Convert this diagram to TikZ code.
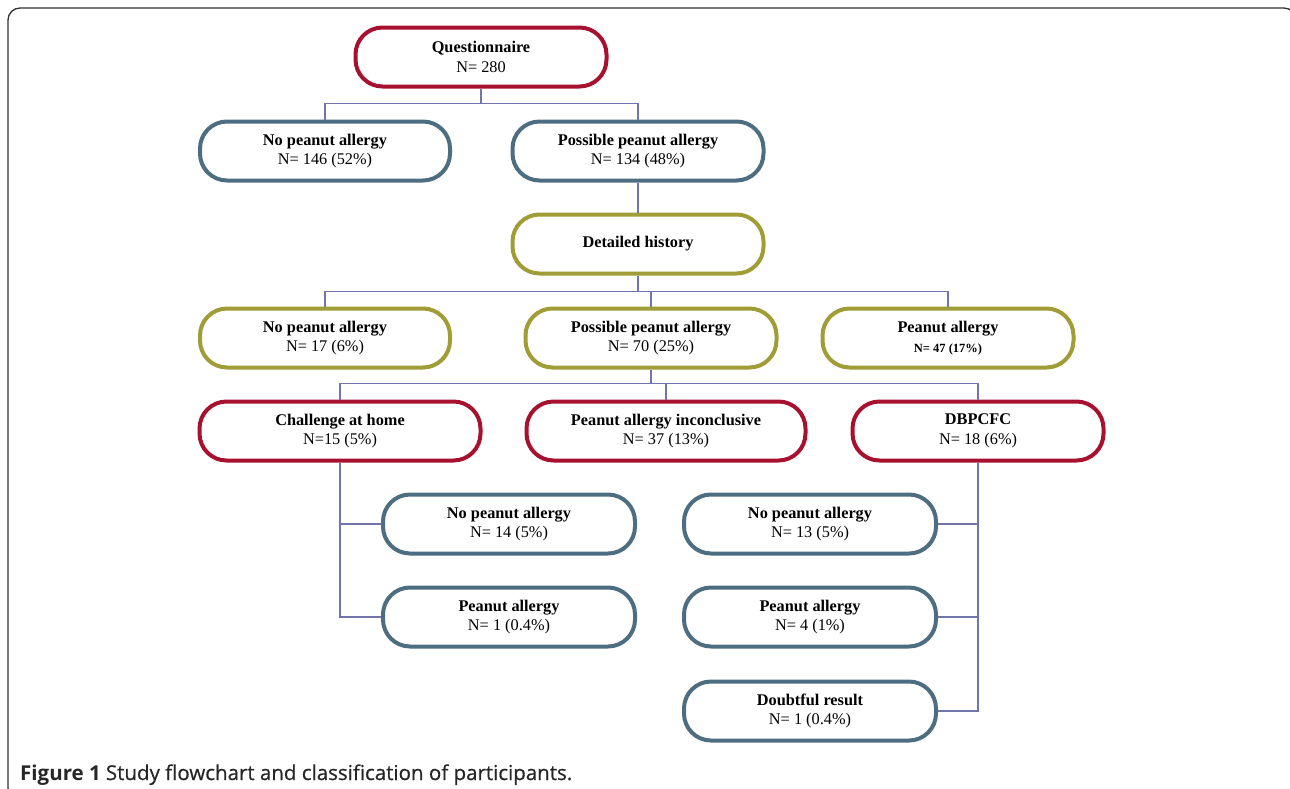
\documentclass[tikz,border=0pt]{standalone}
\usepackage{fontspec}
\setmainfont{Liberation Serif}
\newfontfamily\capfont{Open Sans}
\newfontfamily\capsemi[FakeBold=0.6]{Open Sans}
\usetikzlibrary{calc}
\definecolor{cred}{HTML}{A8102F}
\definecolor{cblue}{HTML}{4D6D80}
\definecolor{colive}{HTML}{A09C36}
\definecolor{cconn}{HTML}{7474AC}
\definecolor{cframe}{HTML}{333333}
\tikzset{
  box/.style={draw, line width=4pt, rounded corners=27pt, fill=white,
    minimum height=59pt, align=center, inner sep=2pt,
    font=\fontsize{16.3}{19.5}\selectfont},
  redbox/.style={box, draw=cred},
  bluebox/.style={box, draw=cblue},
  olivebox/.style={box, draw=colive},
  conn/.style={draw=cconn, line width=1.4pt},
}
\begin{document}
\begin{tikzpicture}[x=1pt, y=-1pt]
\useasboundingbox (0,0) rectangle (1290,788);
\draw[cframe, line width=1.3pt, rounded corners=12pt] (8,8) rectangle (1296,800);

\node[redbox, minimum width=251pt] (q) at (481,57) {\textbf{Questionnaire}\\N= 280};
\node[bluebox, minimum width=250pt] (n1) at (325,151) {\textbf{No peanut allergy}\\N= 146 (52\%)};
\node[bluebox, minimum width=251pt] (p1) at (638,151) {\textbf{Possible peanut allergy}\\N= 134 (48\%)};
\node[olivebox, minimum width=251pt] (dh) at (638,244) {\textbf{Detailed history}};
\node[olivebox, minimum width=250pt] (n2) at (325,338) {\textbf{No peanut allergy}\\N= 17 (6\%)};
\node[olivebox, minimum width=251pt] (p2) at (651,338) {\textbf{Possible peanut allergy}\\N= 70 (25\%)};
\node[olivebox, minimum width=251pt] (a2) at (948,338) {\textbf{Peanut allergy}\\{\fontsize{12.5}{15}\selectfont\textbf{N= 47 (17\%)}}};
\node[redbox, minimum width=281pt] (ch) at (340,431) {\textbf{Challenge at home}\\N=15 (5\%)};
\node[redbox, minimum width=279pt] (inc) at (666,431) {\textbf{Peanut allergy inconclusive}\\N= 37 (13\%)};
\node[redbox, minimum width=251pt] (db) at (978,431) {\textbf{DBPCFC}\\N= 18 (6\%)};
\node[bluebox, minimum width=252pt] (n3) at (509,524) {\textbf{No peanut allergy}\\N= 14 (5\%)};
\node[bluebox, minimum width=252pt] (a3) at (509,617) {\textbf{Peanut allergy}\\N= 1 (0.4\%)};
\node[bluebox, minimum width=252pt] (n4) at (810,524) {\textbf{No peanut allergy}\\N= 13 (5\%)};
\node[bluebox, minimum width=252pt] (a4) at (810,617) {\textbf{Peanut allergy}\\N= 4 (1\%)};
\node[bluebox, minimum width=252pt] (d4) at (810,711) {\textbf{Doubtful result}\\N= 1 (0.4\%)};

% connectors
\draw[conn] (q.south) -- ++(0,15) coordinate (j1);
\draw[conn] (j1) -| (n1.north);
\draw[conn] (j1) -| (p1.north);
\draw[conn] (p1.south) -- (dh.north);
\draw[conn] (dh.south) -- ++(0,16) coordinate (j2);
\draw[conn] (j2) -| (n2.north);
\draw[conn] (j2) -| (p2.north);
\draw[conn] (j2) -| (a2.north);
\draw[conn] (p2.south) -- ++(0,14) coordinate (j3);
\draw[conn] (j3) -| (ch.north);
\draw[conn] (j3) -| (inc.north);
\draw[conn] (j3) -| (db.north);
\draw[conn] (ch.south) |- (n3.west);
\draw[conn] (ch.south) |- (a3.west);
\draw[conn] (db.south) |- (n4.east);
\draw[conn] (db.south) |- (a4.east);
\draw[conn] (db.south) |- (d4.east);

\node[anchor=base west, inner sep=0pt, font=\fontsize{20.5}{24}\selectfont, text=black!85] (cap) at (20,780)
  {{\capfont\bfseries Figure 1} {\capsemi Study flowchart and classification of participants.}};
\end{tikzpicture}
\end{document}
